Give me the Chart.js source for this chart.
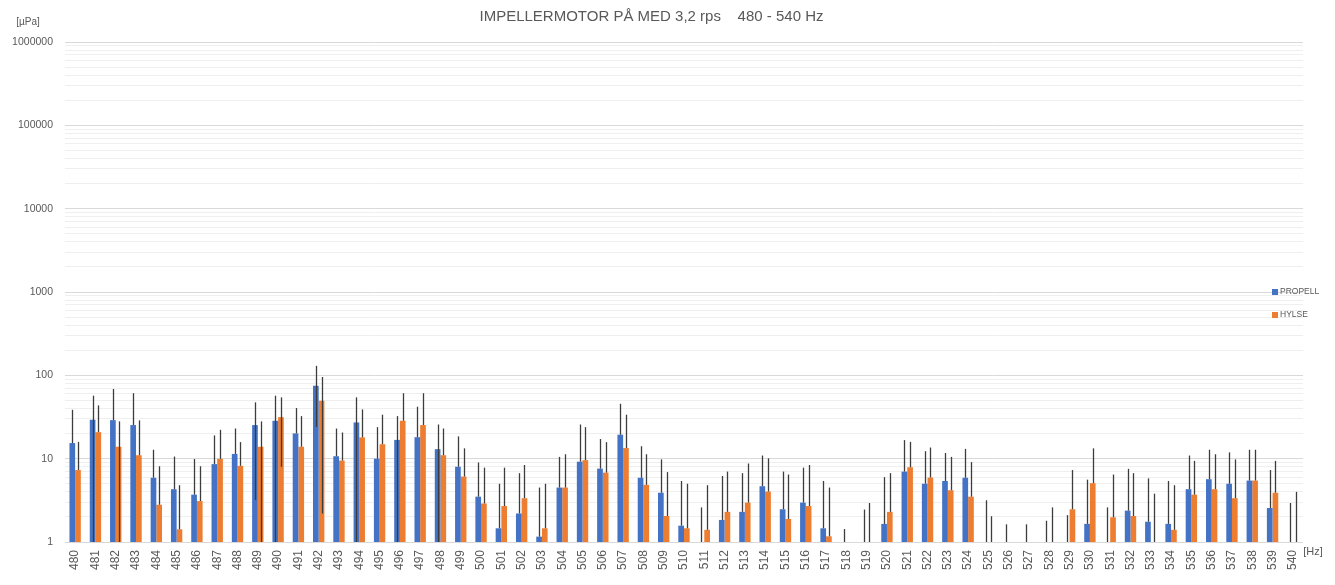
<!DOCTYPE html>
<html>
<head>
<meta charset="utf-8">
<script src="https://cdn.jsdelivr.net/npm/chart.js@4.4.1/dist/chart.umd.min.js"></script>
<style>
  html, body { margin: 0; padding: 0; background: #fff; }
  #wrap { width: 1335px; height: 585px; }
</style>
</head>
<body>
<div id="wrap"><canvas id="grafico"></canvas></div>
<script>
// frekvens 480 - 540 Hz
const frekvens = [];
for (let f = 480; f <= 540; f++) frekvens.push(String(f));

// PROPELL (blå)
const propell = [
  15.4, 29.3, 29.0, 25.3, 5.9, 4.3, 3.7, 8.6, 11.4, 25.3,
  28.5, 20.1, 75, 10.7, 27.2, 10.0, 16.8, 18.1, 13.0, 8.0,
  3.5, 1.46, 2.2, 1.16, 4.5, 9.2, 7.6, 19.4, 5.9, 3.9,
  1.57, null, 1.84, 2.3, 4.67, 2.47, 2.97, 1.46, null, null,
  1.65, 7.0, 5.0, 5.4, 5.9, null, null, null, null, null,
  1.65, null, 2.38, 1.75, 1.65, 4.3, 5.67, 5.0, 5.46, 2.56,
  null
];
const propellHoy = [
  38.6, 57, 68.5, 61, 12.8, 10.6, 9.9, 19, 23, 47.4,
  57, 40.5, 130, 23, 54.4, 23.9, 32.4, 42, 25.7, 18.5,
  9, 5, 6.7, 4.5, 10.5, 25.7, 17.2, 45.6, 14.1, 9.8,
  5.4, 2.6, 6.2, 6.7, 10.9, 7.0, 7.8, 5.4, 1.43, 2.45,
  6.0, 16.7, 12.3, 11.7, 13.1, 3.17, 1.63, 1.63, 1.8, 2.1,
  5.6, 2.6, 7.55, 5.8, 5.4, 10.9, 12.8, 11.9, 12.8, 7.3,
  2.94
];
// nedre ende av feilstreken (null = fra toppen av søylen)
const propellLav = [
  null, 0, null, null, null, null, null, null, null, 3.2,
  0, null, 24, null, 0, null, 0, null, 0, null,
  null, null, null, null, null, null, null, null, null, null,
  null, null, null, null, null, null, null, null, null, null,
  null, null, null, null, null, null, null, null, null, null,
  null, null, null, null, null, null, null, null, null, null,
  null
];

// HYLSE (oransje)
const hylse = [
  7.3, 20.8, 13.9, 11.0, 2.8, 1.42, 3.1, 9.95, 8.2, 13.9,
  31.5, 13.9, 49.6, 9.5, 18, 14.9, 28.5, 25.3, 11.0, 6.1,
  2.9, 2.7, 3.35, 1.46, 4.5, 9.6, 6.8, 13.4, 4.85, 2.05,
  1.46, 1.4, 2.3, 2.97, 4.03, 1.89, 2.7, 1.17, null, null,
  2.3, 7.9, 5.94, 4.18, 3.5, null, null, null, null, 2.47,
  5.08, 1.98, 2.05, null, 1.4, 3.7, 4.3, 3.35, 5.46, 3.9,
  null
];
const hylseHoy = [
  15.9, 43.6, 28, 28.8, 8.1, 4.8, 8.1, 22.2, 15.8, 28,
  54.4, 32.4, 95.5, 20.6, 39, 33.7, 61, 61, 23, 13.3,
  7.8, 7.8, 8.4, 5, 11.3, 23.9, 15.8, 33.7, 11.3, 6.9,
  5, 4.8, 7.0, 8.75, 10.1, 6.45, 8.4, 4.5, null, 2.94,
  6.7, 15.9, 13.6, 10.5, 9.1, 2.04, null, null, 2.6, 7.3,
  13.3, 6.45, 6.7, 3.8, 4.8, 9.4, 11.3, 9.8, 12.8, 9.4,
  4.0
];
const hylseLav = [
  null, null, 0, null, null, null, null, null, null, 0,
  8, null, 2.2, null, null, null, null, null, null, null,
  null, null, null, null, null, null, null, null, null, null,
  null, null, null, null, null, null, null, null, null, null,
  null, null, null, null, null, null, null, null, null, null,
  null, null, null, null, null, null, null, null, null, null,
  null
];

const yTicks = [1, 10, 100, 1000, 10000, 100000, 1000000];

const serier = [
  { label: "PROPELL", data: propell, hoy: propellHoy, lav: propellLav, farge: "#4472C4" },
  { label: "HYLSE", data: hylse, hoy: hylseHoy, lav: hylseLav, farge: "#ED7D31" }
];

const tekstFarge = "#595959";
const font = "'Liberation Sans', Arial, sans-serif";

// feilstreker over søylene
const feilstreker = {
  id: "feilstreker",
  afterDatasetsDraw(chart) {
    const ctx = chart.ctx;
    const y = chart.scales.y;
    const area = chart.chartArea;
    ctx.save();
    ctx.beginPath();
    ctx.rect(area.left, area.top, area.right - area.left, area.bottom - area.top);
    ctx.clip();
    ctx.strokeStyle = "#3c3c3c";
    ctx.lineWidth = 1.3;
    serier.forEach((s, di) => {
      const meta = chart.getDatasetMeta(di);
      meta.data.forEach((bar, i) => {
        const hoy = s.hoy[i];
        if (hoy == null) return;
        let lav = s.lav[i];
        if (lav == null) lav = s.data[i] == null ? 0 : s.data[i];
        const yTop = y.getPixelForValue(hoy);
        const yBot = lav <= 0 ? area.bottom : y.getPixelForValue(lav);
        const x = Math.round(bar.x) + 0.5;
        ctx.beginPath();
        ctx.moveTo(x, yBot);
        ctx.lineTo(x, yTop);
        ctx.stroke();
      });
    });
    ctx.restore();
  }
};

// enheter og forklaring
const tekster = {
  id: "tekster",
  afterDraw(chart) {
    const ctx = chart.ctx;
    ctx.save();
    ctx.fillStyle = tekstFarge;
    ctx.textBaseline = "middle";
    ctx.textAlign = "center";
    ctx.font = "10px " + font;
    ctx.fillText("[µPa]", 28, 22);
    ctx.font = "11px " + font;
    ctx.fillText("[Hz]", 1313, 552);

    ctx.textAlign = "left";
    ctx.font = "8.5px " + font;
    const ly = [292, 315];
    serier.forEach((s, i) => {
      ctx.fillStyle = s.farge;
      ctx.fillRect(1272, ly[i] - 3, 6, 6);
      ctx.fillStyle = tekstFarge;
      ctx.fillText(s.label, 1280, ly[i]);
    });
    ctx.restore();
  }
};

new Chart(document.getElementById("grafico"), {
  type: "bar",
  data: {
    labels: frekvens,
    datasets: serier.map(s => ({
      label: s.label,
      data: s.data,
      backgroundColor: s.farge,
      borderWidth: 0,
      categoryPercentage: 0.56,
      barPercentage: 1.0
    }))
  },
  options: {
    responsive: true,
    maintainAspectRatio: false,
    animation: false,
    layout: { padding: { left: 0, right: 32, top: 0, bottom: 0 } },
    plugins: {
      legend: { display: false },
      tooltip: { enabled: false },
      title: {
        display: true,
        text: "IMPELLERMOTOR PÅ MED 3,2 rps    480 - 540 Hz",
        color: tekstFarge,
        font: { family: font, size: 15, weight: "normal", lineHeight: 1.2 },
        padding: { top: 8, bottom: 16 }
      }
    },
    scales: {
      x: {
        grid: { display: false, drawTicks: false },
        border: { display: false },
        ticks: {
          color: tekstFarge,
          font: { family: font, size: 12 },
          minRotation: 90,
          maxRotation: 90,
          autoSkip: false,
          padding: 8
        },
        afterFit(scale) { scale.height = 43; }
      },
      y: {
        type: "logarithmic",
        min: 1,
        max: 1000000,
        border: { display: false },
        grid: {
          drawTicks: false,
          color: c => yTicks.includes(c.tick && c.tick.value) ? "#d9d9d9" : "#efefef",
          lineWidth: 1
        },
        ticks: {
          color: tekstFarge,
          font: { family: font, size: 10.5 },
          autoSkip: false,
          padding: 12,
          callback: v => yTicks.includes(v) ? String(v) : ""
        },
        afterBuildTicks(scale) {
          // hovedstreker ved tierpotenser, hjelpestreker ved 2..9
          const t = [];
          yTicks.forEach((p, k) => {
            t.push({ value: p });
            if (k < yTicks.length - 1) {
              for (let m = 2; m <= 9; m++) t.push({ value: p * m });
            }
          });
          scale.ticks = t;
        },
        afterFit(scale) { scale.width = 65; }
      }
    }
  },
  plugins: [feilstreker, tekster]
});
</script>
</body>
</html>
